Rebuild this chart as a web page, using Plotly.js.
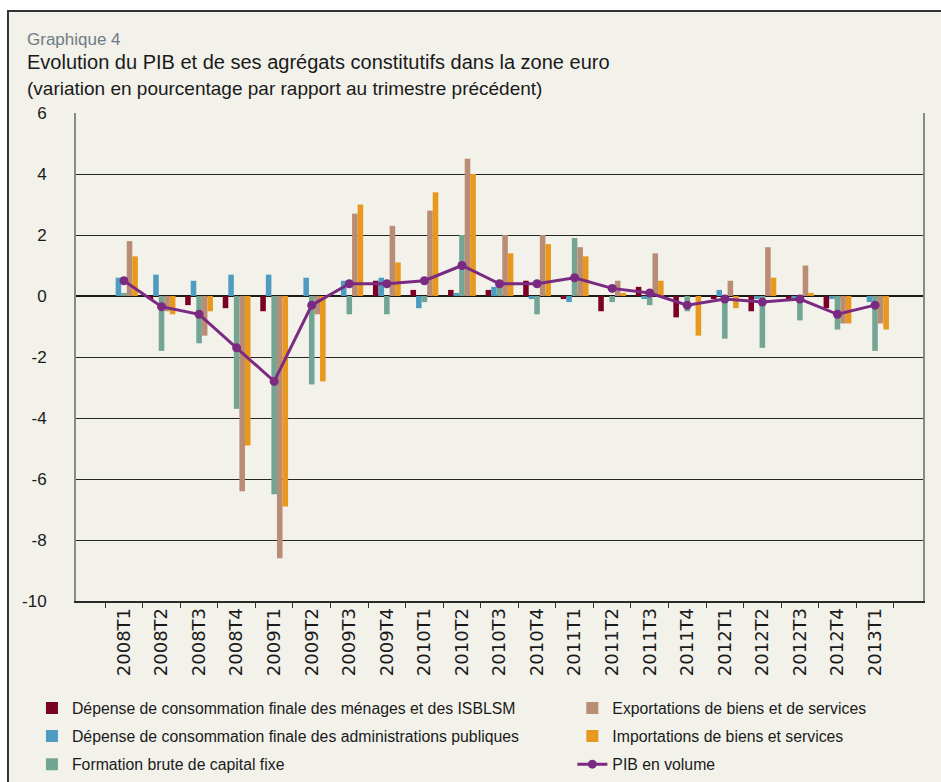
<!DOCTYPE html>
<html>
<head>
<meta charset="utf-8">
<script src="https://cdn.plot.ly/plotly-3.0.1.min.js"></script>
<style>
html,body{margin:0;padding:0;background:#ffffff;}
#chart{width:941px;height:782px;}
</style>
</head>
<body>
<div id="chart"></div>
<script>
var categories = ["2008T1","2008T2","2008T3","2008T4","2009T1","2009T2","2009T3","2009T4","2010T1","2010T2","2010T3","2010T4","2011T1","2011T2","2011T3","2011T4","2012T1","2012T2","2012T3","2012T4","2013T1"];
var menages = [0, -0.1, -0.3, -0.4, -0.5, 0, 0, 0.5, 0.2, 0.2, 0.2, 0.5, -0.1, -0.5, 0.3, -0.7, -0.1, -0.5, -0.1, -0.4, 0];
var administrations = [0.6, 0.7, 0.5, 0.7, 0.7, 0.6, 0.5, 0.6, -0.4, 0.1, 0.3, -0.1, -0.2, 0, -0.1, 0, 0.2, -0.1, -0.05, -0.1, -0.2];
var formation = [0.1, -1.8, -1.55, -3.7, -6.5, -2.9, -0.6, -0.6, -0.2, 2.0, 0.3, -0.6, 1.9, -0.2, -0.3, -0.5, -1.4, -1.7, -0.8, -1.1, -1.8];
var exportations = [1.8, -0.5, -1.3, -6.4, -8.6, -0.6, 2.7, 2.3, 2.8, 4.5, 2.0, 2.0, 1.6, 0.5, 1.4, 0, 0.5, 1.6, 1.0, -0.9, -0.9];
var importations = [1.3, -0.6, -0.5, -4.9, -6.9, -2.8, 3.0, 1.1, 3.4, 4.0, 1.4, 1.7, 1.3, 0.1, 0.5, -1.3, -0.4, 0.6, 0.1, -0.9, -1.1];
var pib = [0.5, -0.35, -0.6, -1.7, -2.8, -0.3, 0.4, 0.4, 0.5, 1.0, 0.4, 0.4, 0.6, 0.25, 0.1, -0.3, -0.1, -0.2, -0.1, -0.6, -0.3];
var yTicks = [-10, -8, -6, -4, -2, 0, 2, 4, 6];

var names = [
  "Dépense de consommation finale des ménages et des ISBLSM",
  "Dépense de consommation finale des administrations publiques",
  "Formation brute de capital fixe",
  "Exportations de biens et de services",
  "Importations de biens et services",
  "PIB en volume"
];
var colors = ["#7a0025", "#4f9cc1", "#73a594", "#b98c74", "#e8981c", "#7b2a82"];
var series = [menages, administrations, formation, exportations, importations];
var legendOf = ["legend", "legend", "legend", "legend2", "legend2"];

var traces = series.map(function (vals, i) {
  return {
    type: "bar",
    x: categories,
    y: vals,
    name: names[i],
    marker: {color: colors[i], line: {width: 0}},
    legend: legendOf[i],
    legendgroup: "g" + i,
    hoverinfo: "x+y+name"
  };
});
traces.push({
  type: "scatter",
  mode: "lines+markers",
  x: categories,
  y: pib,
  name: names[5],
  line: {color: colors[5], width: 3},
  marker: {color: colors[5], size: 9},
  legend: "legend2",
  legendgroup: "g5"
});

var legFont = {family: "Liberation Sans, Arial, sans-serif", size: 15.8, color: "#1a1a1a"};
var titleFam = "Liberation Sans, Arial, sans-serif";

var layout = {
  width: 941,
  height: 782,
  paper_bgcolor: "#ffffff",
  plot_bgcolor: "rgba(0,0,0,0)",
  margin: {l: 76, r: 18, t: 113, b: 181, autoexpand: false},
  barmode: "group",
  bargap: 0.26,
  bargroupgap: 0,
  showlegend: true,
  font: {family: "Liberation Sans, Arial, sans-serif", color: "#1a1a1a"},
  xaxis: {
    type: "category",
    tickangle: -90,
    tickson: "boundaries",
    ticks: "outside",
    ticklen: 5,
    tickcolor: "#333333",
    tickfont: {family: "DejaVu Sans, sans-serif", size: 18, color: "#1a1a1a"},
    ticklabelstandoff: -2,
    showgrid: false,
    showline: true,
    linecolor: "#2a2a2a",
    linewidth: 1.5,
    zeroline: false
  },
  yaxis: {
    range: [-10, 6],
    tickvals: yTicks,
    ticktext: yTicks.map(String),
    ticks: "",
    ticklabelstandoff: 24,
    tickfont: {family: "Liberation Sans, Arial, sans-serif", size: 17, color: "#1a1a1a"},
    showgrid: true,
    gridcolor: "#262626",
    gridwidth: 1.4,
    zeroline: true,
    zerolinecolor: "#1a1a1a",
    zerolinewidth: 1.6,
    showline: true,
    linecolor: "#8a8a8a",
    linewidth: 2,
    mirror: true
  },
  legend: {
    x: -0.052, xanchor: "left",
    y: -0.185, yanchor: "top",
    orientation: "v",
    traceorder: "grouped",
    tracegroupgap: 4.5,
    bgcolor: "rgba(0,0,0,0)",
    font: legFont,
    itemwidth: 30
  },
  legend2: {
    x: 0.586, xanchor: "left",
    y: -0.185, yanchor: "top",
    orientation: "v",
    traceorder: "grouped",
    tracegroupgap: 4.5,
    bgcolor: "rgba(0,0,0,0)",
    font: legFont,
    itemwidth: 30
  },
  shapes: [{
    type: "rect", xref: "paper", yref: "paper",
    x0: -0.0803, x1: 1.03, y0: -0.39, y1: 1.209,
    fillcolor: "#f2f1ea",
    line: {color: "#333333", width: 2},
    layer: "below"
  }],
  annotations: [
    {text: "Graphique 4", xref: "paper", yref: "paper", x: -0.06, y: 1.1496, xanchor: "left", yanchor: "middle", showarrow: false,
     font: {family: titleFam, size: 17, color: "#6e7c84"}},
    {text: "Evolution du PIB et de ses agrégats constitutifs dans la zone euro", xref: "paper", yref: "paper", x: -0.06, y: 1.1045, xanchor: "left", yanchor: "middle", showarrow: false,
     font: {family: titleFam, size: 20, color: "#1a1a1a"}},
    {text: "(variation en pourcentage par rapport au trimestre précédent)", xref: "paper", yref: "paper", x: -0.06, y: 1.0512, xanchor: "left", yanchor: "middle", showarrow: false,
     font: {family: titleFam, size: 19, color: "#1a1a1a"}}
  ]
};

Plotly.newPlot("chart", traces, layout, {displayModeBar: false, responsive: false});
</script>
</body>
</html>
